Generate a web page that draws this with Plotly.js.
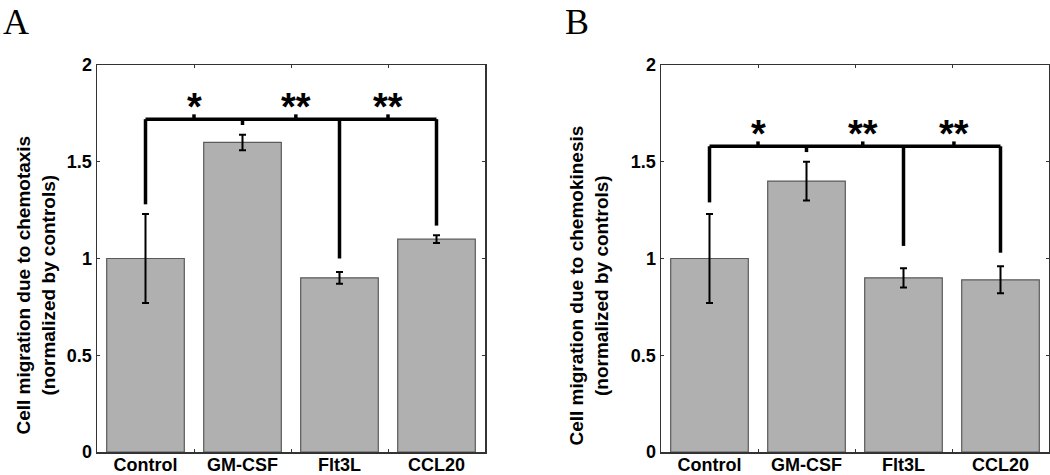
<!DOCTYPE html>
<html>
<head>
<meta charset="utf-8">
<script src="https://cdn.plot.ly/plotly-3.0.1.min.js"></script>
<style>
  body { margin: 0; background: #fff; }
  #chart { width: 1050px; height: 475px; }
</style>
</head>
<body>
<div id="chart"></div>
<script>
// Cell migration, two panels (A: chemotaxis, B: chemokinesis)

var cats = ['Control', 'GM-CSF', 'Flt3L', 'CCL20'];

var chemotaxis = [1.0, 1.6, 0.9, 1.1];
var chemotaxisErr = [0.23, 0.04, 0.03, 0.02];

var chemokinesis = [1.0, 1.4, 0.9, 0.89];
var chemokinesisErr = [0.23, 0.1, 0.05, 0.07];

var yTicks = [0, 0.5, 1, 1.5, 2];
var yTickText = ['0', '0.5', '1', '1.5', '2'];

// significance brackets: bar level, leg bottoms (one per category), star positions / labels
var sigLevelA = 1.72;
var legBottomA = [1.28, 1.69, 1.0, 1.17];
var starPosA = [1.5, 2.55, 3.5];
var starTextA = ['*', '**', '**'];

var sigLevelB = 1.58;
var legBottomB = [1.29, 1.55, 1.065, 1.03];
var starPosB = [1.5, 2.58, 3.52];
var starTextB = ['*', '**', '**'];

var barColor = '#b0b0b0';
var edgeColor = '#5a5a5a';
var axisColor = '#333';

function barTrace(vals, errs, xa, ya) {
    return {
        x: cats,
        y: vals,
        type: 'bar',
        xaxis: xa,
        yaxis: ya,
        width: 0.8,
        marker: { color: barColor, line: { color: edgeColor, width: 1.2 } },
        error_y: { type: 'data', array: errs, visible: true, color: '#000', thickness: 2, width: 3.5 },
        showlegend: false,
        hoverinfo: 'x+y'
    };
}

var data = [
    barTrace(chemotaxis, chemotaxisErr, 'x', 'y'),
    barTrace(chemokinesis, chemokinesisErr, 'x2', 'y2')
];

var shapes = [];
var annotations = [];

function addBracket(level, legs, starPos, starText, xa, ya) {
    var line = { color: '#000', width: 3.5 };
    // horizontal bar from first to last category
    shapes.push({ type: 'line', xref: xa, yref: ya, x0: 0, x1: legs.length - 1, y0: level, y1: level, line: line });
    for (var i = 0; i < legs.length; i++) {
        shapes.push({ type: 'line', xref: xa, yref: ya, x0: i, x1: i, y0: legs[i], y1: level, line: line });
    }
    for (var j = 0; j < starPos.length; j++) {
        // little mark up to each star (positions are 1-based between-bar slots)
        var sx = starPos[j] - 1;
        shapes.push({ type: 'line', xref: xa, yref: ya, x0: sx, x1: sx, y0: level, y1: level + 0.025, line: line });
        annotations.push({
            xref: xa, yref: ya, x: sx, y: level - 0.055,
            text: starText[j], showarrow: false, xanchor: 'center', yanchor: 'bottom',
            font: { family: 'Arial, Liberation Sans', size: 38, color: '#000', weight: 'bold' }
        });
    }
}

addBracket(sigLevelA, legBottomA, starPosA, starTextA, 'x', 'y');
addBracket(sigLevelB, legBottomB, starPosB, starTextB, 'x2', 'y2');

var labelFont = { family: 'Arial, Liberation Sans', size: 19, color: '#000', weight: 'bold' };

annotations.push({
    xref: 'paper', yref: 'paper', x: 36 / 1050, y: 0.43,
    text: 'Cell migration due to chemotaxis<br>(normalized by controls)',
    textangle: -90, showarrow: false, xanchor: 'center', yanchor: 'middle', font: labelFont
});
annotations.push({
    xref: 'paper', yref: 'paper', x: 589 / 1050, y: 0.43,
    text: 'Cell migration due to chemokinesis<br>(normalized by controls)',
    textangle: -90, showarrow: false, xanchor: 'center', yanchor: 'middle', font: labelFont
});

var letterFont = { family: 'Liberation Serif, DejaVu Serif, serif', size: 36, color: '#000' };
annotations.push({ xref: 'paper', yref: 'paper', x: 1 / 1050, y: 1.168, text: 'A',
    showarrow: false, xanchor: 'left', yanchor: 'top', font: letterFont });
annotations.push({ xref: 'paper', yref: 'paper', x: 563 / 1050, y: 1.168, text: 'B',
    showarrow: false, xanchor: 'left', yanchor: 'top', font: letterFont });

var tickFont = { family: 'Arial, Liberation Sans', size: 18, color: '#000', weight: 'bold' };

function xAxis(domain, anchor) {
    return {
        domain: domain, anchor: anchor, type: 'category',
        showline: true, linecolor: axisColor, linewidth: 1.5, mirror: 'ticks',
        ticks: 'inside', tickson: 'boundaries', ticklen: 3, tickcolor: axisColor,
        ticklabelstandoff: -4,
        tickfont: tickFont, showgrid: false, zeroline: false, fixedrange: true
    };
}

function yAxis(anchor) {
    return {
        anchor: anchor, range: [0, 2], tickvals: yTicks, ticktext: yTickText,
        showline: true, linecolor: axisColor, linewidth: 1.5, mirror: 'ticks',
        ticks: 'inside', ticklen: 3, tickcolor: axisColor,
        tickfont: tickFont, showgrid: false, zeroline: false, fixedrange: true
    };
}

var layout = {
    width: 1050,
    height: 475,
    margin: { l: 0, r: 0, t: 65, b: 23 },
    paper_bgcolor: '#fff',
    plot_bgcolor: '#fff',
    xaxis: xAxis([97 / 1050, 485 / 1050], 'y'),
    yaxis: yAxis('x'),
    xaxis2: xAxis([661 / 1050, 1049 / 1050], 'y2'),
    yaxis2: yAxis('x2'),
    shapes: shapes,
    annotations: annotations,
    bargap: 0.2
};

Plotly.newPlot('chart', data, layout, { displayModeBar: false, staticPlot: true });
</script>
</body>
</html>
